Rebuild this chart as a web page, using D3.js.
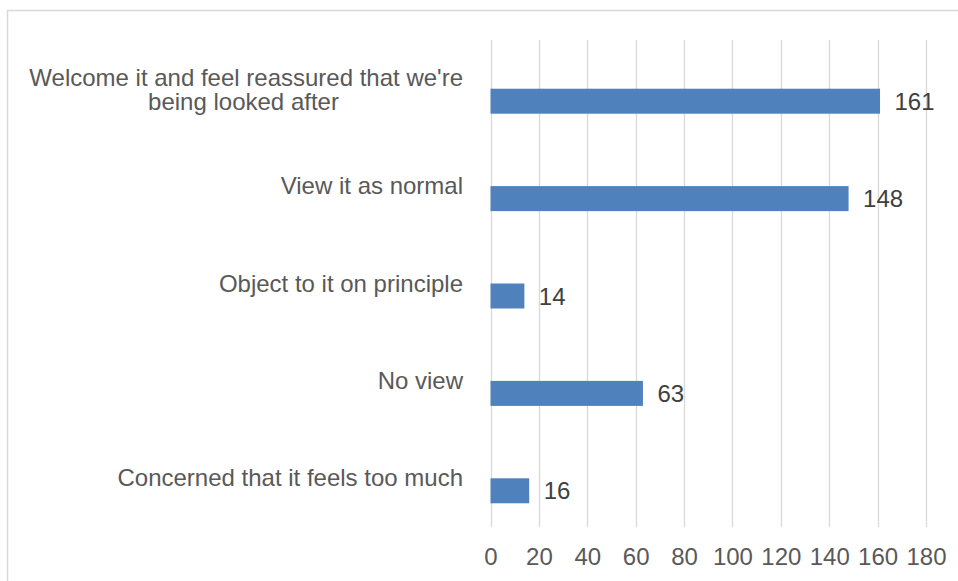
<!DOCTYPE html>
<html>
<head>
<meta charset="utf-8">
<script src="https://cdn.jsdelivr.net/npm/d3@7"></script>
<style>
  html, body { margin: 0; padding: 0; background: #fff; }
  svg { display: block; font-family: "Liberation Sans", Arial, sans-serif; }
</style>
</head>
<body>
<div id="chart"></div>
<script>
// categories, top to bottom (label lines split where the original wraps)
var categories = [
  "Welcome it and feel reassured that we're|being looked after",
  "View it as normal",
  "Object to it on principle",
  "No view",
  "Concerned that it feels too much"
]
var values = [161, 148, 14, 63, 16]
var tickValues = [0, 20, 40, 60, 80, 100, 120, 140, 160, 180]

var width = 958,
    height = 581

var svg = d3.select("#chart")
  .append("svg")
    .attr("width", width)
    .attr("height", height)

// chart area border (runs off the page right and bottom)
svg.append("rect")
  .attr("x", 7.5)
  .attr("y", 10.5)
  .attr("width", width + 20)
  .attr("height", height + 20)
  .attr("fill", "#fff")
  .attr("stroke", "#d9d9d9")
  .attr("stroke-width", 1.5)

var x = d3.scaleLinear()
  .domain([0, 180])
  .range([490.5, 926])

var y = d3.scaleBand()
  .domain(categories)
  .range([40, 527])
  .padding(0)

// gridlines
svg.selectAll(".grid")
  .data(tickValues)
  .enter()
  .append("line")
    .attr("x1", function(d) { return Math.round(x(d)) + 0.5 })
    .attr("x2", function(d) { return Math.round(x(d)) + 0.5 })
    .attr("y1", 40)
    .attr("y2", 527)
    .attr("stroke", "#d9d9d9")
    .attr("stroke-width", 1.3)

// x axis labels
var xAxis = d3.axisBottom(x)
  .tickValues(tickValues)
  .tickSize(0)
  .tickPadding(0)

var gx = svg.append("g")
  .attr("transform", "translate(0,527)")
  .call(xAxis)
gx.select(".domain").remove()
gx.selectAll("text")
  .attr("y", 38)
  .attr("dy", null)
  .style("font-size", "24px")
  .style("font-family", "'Liberation Sans', Arial, sans-serif")
  .attr("fill", "#595959")

// bars sit in the lower half of each category band (empty second series above)
var barH = 25
svg.selectAll(".bar")
  .data(values)
  .enter()
  .append("rect")
    .attr("x", x(0))
    .attr("y", function(d, i) { return y(categories[i]) + y.bandwidth() / 2 })
    .attr("width", function(d) { return x(d) - x(0) })
    .attr("height", barH)
    .attr("fill", "#4f81bd")

// value labels
svg.selectAll(".val")
  .data(values)
  .enter()
  .append("text")
    .attr("x", function(d) { return x(d) + 14.5 })
    .attr("y", function(d, i) { return y(categories[i]) + y.bandwidth() / 2 + barH / 2 + 8.5 })
    .text(function(d) { return d })
    .style("font-size", "24px")
    .attr("fill", "#404040")

// category labels, right aligned, centred on the band
var lineH = 24.5
var labels = svg.selectAll(".cat")
  .data(categories)
  .enter()
  .append("text")
    .style("font-size", "24px")
    .attr("fill", "#595959")

labels.each(function(d) {
  var lines = d.split("|")
  var cy = y(d) + y.bandwidth() / 2
  var first = cy + 8 - (lines.length - 1) * lineH / 2 + (lines.length > 1 ? 1.3 : 0)
  var t = d3.select(this)
  lines.forEach(function(l, k) {
    // wrapped lines after the first are centred under it
    t.append("tspan")
      .attr("x", k == 0 ? 463 : 243.5)
      .attr("text-anchor", k == 0 ? "end" : "middle")
      .attr("y", first + k * lineH)
      .text(l)
  })
})
</script>
</body>
</html>
